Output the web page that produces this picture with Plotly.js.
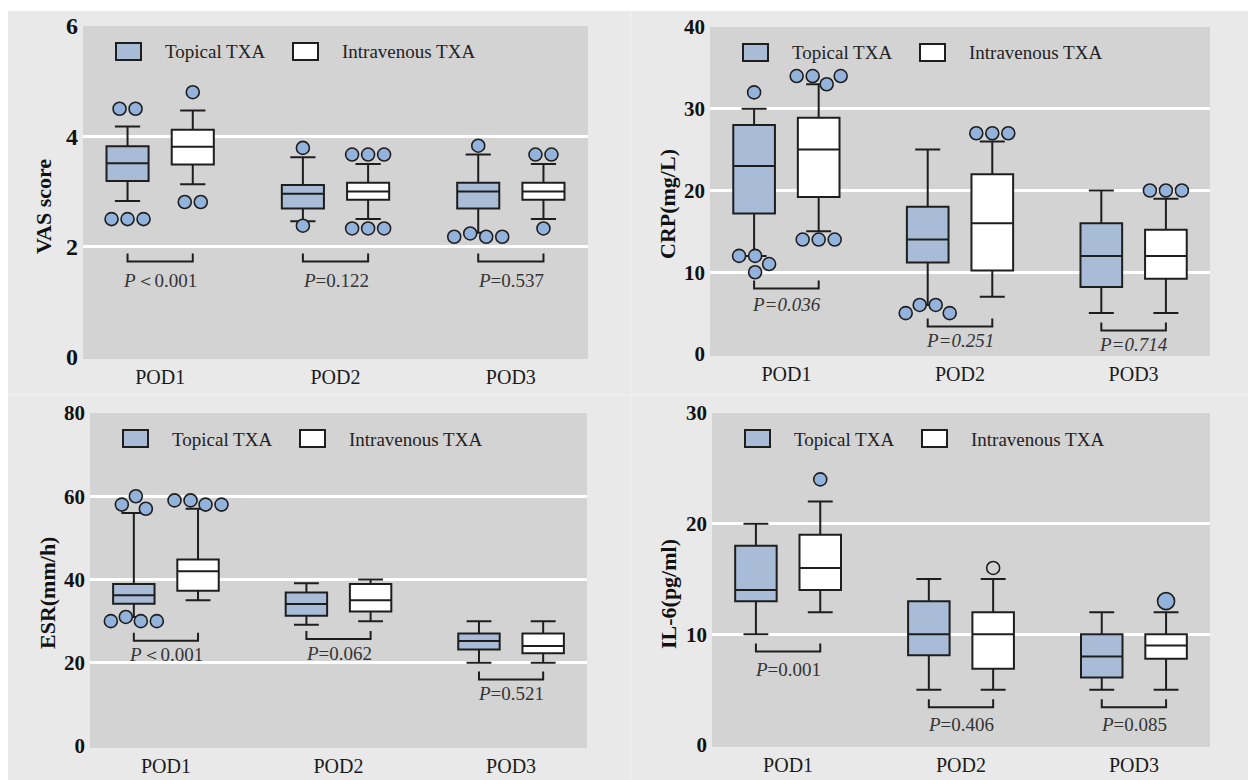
<!DOCTYPE html>
<html><head><meta charset="utf-8">
<script src="https://cdn.plot.ly/plotly-3.0.1.min.js"></script>
<style>html,body{margin:0;padding:0;background:#fff}#chart{width:1248px;height:780px}</style>
</head><body><div id="chart"></div>
<script>
// ---------------- DATA ----------------
const categories = ['POD1', 'POD2', 'POD3'];
const groupNames = ['Topical TXA', 'Intravenous TXA'];

// VAS score
const vasTopicalLower  = [2.83, 2.46, 2.25];
const vasTopicalQ1     = [3.19, 2.69, 2.69];
const vasTopicalMedian = [3.51, 2.96, 3.00];
const vasTopicalQ3     = [3.82, 3.12, 3.16];
const vasTopicalUpper  = [4.18, 3.62, 3.67];
const vasTopicalOut    = [[4.5, 4.5, 2.5, 2.5, 2.5], [3.79, 2.38], [3.83, 2.18, 2.24, 2.18, 2.18]];
const vasIVLower  = [3.13, 2.50, 2.50];
const vasIVQ1     = [3.49, 2.85, 2.85];
const vasIVMedian = [3.81, 3.00, 3.00];
const vasIVQ3     = [4.12, 3.16, 3.16];
const vasIVUpper  = [4.47, 3.50, 3.50];
const vasIVOut    = [[4.8, 2.81, 2.81], [3.67, 3.67, 3.67, 2.33, 2.33, 2.33], [3.67, 3.67, 2.33]];
const vasP = ['＜0.001', '=0.122', '=0.537'];

// CRP (mg/L)
const crpTopicalLower  = [12, 6, 5];
const crpTopicalQ1     = [17.2, 11.2, 8.2];
const crpTopicalMedian = [23, 14, 12];
const crpTopicalQ3     = [28, 18, 16];
const crpTopicalUpper  = [30, 25, 20];
const crpTopicalOut    = [[32, 12, 12, 10, 11], [6, 6, 5, 5], []];
const crpIVLower  = [15, 7, 5];
const crpIVQ1     = [19.2, 10.2, 9.2];
const crpIVMedian = [25, 16, 12];
const crpIVQ3     = [28.9, 22, 15.2];
const crpIVUpper  = [33, 26, 19];
const crpIVOut    = [[34, 34, 33, 34, 14, 14, 14], [27, 27, 27], [20, 20, 20]];
const crpP = ['=0.036', '=0.251', '=0.714'];

// ESR (mm/h)
const esrTopicalLower  = [31, 29.1, 20];
const esrTopicalQ1     = [34.2, 31.3, 23.2];
const esrTopicalMedian = [36.2, 34.1, 25.2];
const esrTopicalQ3     = [38.9, 36.9, 27];
const esrTopicalUpper  = [56, 39.1, 30];
const esrTopicalOut    = [[60, 58, 57, 30, 31, 30, 30], [], []];
const esrIVLower  = [35, 30, 20];
const esrIVQ1     = [37.3, 32.3, 22.3];
const esrIVMedian = [42, 35, 24];
const esrIVQ3     = [44.8, 38.9, 27];
const esrIVUpper  = [57, 40, 30];
const esrIVOut    = [[58, 59, 58, 59], [], []];
const esrP = ['＜0.001', '=0.062', '=0.521'];

// IL-6 (pg/ml)
const il6TopicalLower  = [10, 5, 5];
const il6TopicalQ1     = [13, 8.1, 6.1];
const il6TopicalMedian = [14, 10, 8];
const il6TopicalQ3     = [18, 13, 10];
const il6TopicalUpper  = [20, 15, 12];
const il6TopicalOut    = [[], [], []];
const il6IVLower  = [12, 5, 5];
const il6IVQ1     = [14, 6.9, 7.8];
const il6IVMedian = [16, 10, 9];
const il6IVQ3     = [19, 12, 10];
const il6IVUpper  = [22, 15, 12];
const il6IVOut    = [[24], [16], [13]];
const il6P = ['=0.001', '=0.406', '=0.085'];

// ---------------- STYLE / LAYOUT ----------------
const W = 1248, H = 780;
const FONT = 'Liberation Serif, Times New Roman, serif';
const XR = [-0.44, 2.44];
const BOX_OFF = 0.186, BOX_W = 0.24;
const DARK = '#1e1e1e';
const TOPICAL_FILL = '#a8bbd7';
const IV_FILL = '#ffffff';
const OUT_FILL = '#93b3dd';
const PLOT_BG = '#d3d3d3';
const MARK = 13, MIN_D = 15.5;

const panels = [
  {title: 'VAS score', yr: [0, 6], dtick: 2, tickSize: 24, px: [83, 588], py: [26, 357], titlePos: [44, 207],
   T: [vasTopicalLower, vasTopicalQ1, vasTopicalMedian, vasTopicalQ3, vasTopicalUpper], TO: vasTopicalOut,
   I: [vasIVLower, vasIVQ1, vasIVMedian, vasIVQ3, vasIVUpper], IO: vasIVOut,
   p: vasP, pAllItalic: false, bracketY: [1.73, 1.73, 1.73], textY: [1.39, 1.39, 1.39]},
  {title: 'CRP(mg/L)', yr: [0, 40], dtick: 10, tickSize: 21, px: [710, 1210], py: [27, 354], titlePos: [668, 204],
   T: [crpTopicalLower, crpTopicalQ1, crpTopicalMedian, crpTopicalQ3, crpTopicalUpper], TO: crpTopicalOut,
   I: [crpIVLower, crpIVQ1, crpIVMedian, crpIVQ3, crpIVUpper], IO: crpIVOut,
   p: crpP, pAllItalic: true, bracketY: [8.0, 3.35, 2.86], textY: [6.0, 1.6, 1.2]},
  {title: 'ESR(mm/h)', yr: [0, 80], dtick: 20, tickSize: 21, px: [90, 587], py: [413, 746], titlePos: [47, 593],
   T: [esrTopicalLower, esrTopicalQ1, esrTopicalMedian, esrTopicalQ3, esrTopicalUpper], TO: esrTopicalOut,
   I: [esrIVLower, esrIVQ1, esrIVMedian, esrIVQ3, esrIVUpper], IO: esrIVOut,
   p: esrP, pAllItalic: false, bracketY: [25.3, 25.7, 16.0], textY: [22.0, 22.3, 12.5]},
  {title: 'IL-6(pg/ml)', yr: [0, 30], dtick: 10, tickSize: 21, px: [712, 1210], py: [413, 745], titlePos: [668, 594],
   T: [il6TopicalLower, il6TopicalQ1, il6TopicalMedian, il6TopicalQ3, il6TopicalUpper], TO: il6TopicalOut,
   I: [il6IVLower, il6IVQ1, il6IVMedian, il6IVQ3, il6IVUpper], IO: il6IVOut,
   p: il6P, pAllItalic: false, bracketY: [8.44, 3.4, 3.4], textY: [6.85, 1.87, 1.87],
   outStyle: {'I1': {fill: PLOT_BG}, 'I2': {size: 17}}}
];

// beeswarm offsets (pixels) for a set of values
function swarm(values, pxPerY) {
  const placed = [];
  values.forEach(v => {
    const yp = v * pxPerY;
    let dx = 0;
    for (let k = 0; k < 400; k++) {
      const c = k === 0 ? 0 : (k % 2 === 1 ? -Math.ceil(k / 2) : Math.ceil(k / 2));
      if (placed.every(p => Math.hypot(p[0] - c, p[1] - yp) >= MIN_D)) { dx = c; break; }
    }
    placed.push([dx, yp]);
  });
  const n = placed.length, comp = new Array(n).fill(-1);
  let cid = 0;
  for (let i = 0; i < n; i++) {
    if (comp[i] >= 0) continue;
    const stack = [i]; comp[i] = cid;
    while (stack.length) {
      const a = stack.pop();
      for (let b = 0; b < n; b++) {
        if (comp[b] < 0 && Math.hypot(placed[a][0] - placed[b][0], placed[a][1] - placed[b][1]) <= MIN_D * 1.15) {
          comp[b] = cid; stack.push(b);
        }
      }
    }
    cid++;
  }
  for (let c = 0; c < cid; c++) {
    const xs = placed.filter((p, i) => comp[i] === c).map(p => p[0]);
    const shift = -(Math.min(...xs) + Math.max(...xs)) / 2;
    placed.forEach((p, i) => { if (comp[i] === c) p[0] += shift; });
  }
  return placed.map(p => p[0]);
}

const traces = [], shapes = [], annotations = [];
const layout = {
  width: W, height: H, margin: {l: 0, r: 0, t: 0, b: 0},
  paper_bgcolor: '#e9e9e9', plot_bgcolor: PLOT_BG, showlegend: false,
  font: {family: FONT, color: '#1a1a1a'}
};

shapes.push({type: 'rect', xref: 'paper', yref: 'paper', x0: 0, x1: 1, y0: 1 - 11 / H, y1: 1, fillcolor: '#ffffff', line: {width: 0}, layer: 'below'});
shapes.push({type: 'rect', xref: 'paper', yref: 'paper', x0: 0, x1: 8 / W, y0: 0, y1: 1, fillcolor: '#ffffff', line: {width: 0}, layer: 'below'});
shapes.push({type: 'line', xref: 'paper', yref: 'paper', x0: 631 / W, x1: 631 / W, y0: 0, y1: 1 - 11 / H, line: {color: '#f2f2f2', width: 1}, layer: 'below'});
shapes.push({type: 'line', xref: 'paper', yref: 'paper', x0: 8 / W, x1: 1, y0: 1 - 395 / H, y1: 1 - 395 / H, line: {color: '#f2f2f2', width: 1}, layer: 'below'});

panels.forEach((P, k) => {
  const n = k + 1;
  const xa = n === 1 ? 'x' : 'x' + n, ya = n === 1 ? 'y' : 'y' + n;
  const xKey = n === 1 ? 'xaxis' : 'xaxis' + n, yKey = n === 1 ? 'yaxis' : 'yaxis' + n;
  const pxPerX = (P.px[1] - P.px[0]) / (XR[1] - XR[0]);
  const pxPerY = (P.py[1] - P.py[0]) / (P.yr[1] - P.yr[0]);
  const tickvals = [];
  for (let v = P.yr[0]; v <= P.yr[1] + 1e-9; v += P.dtick) tickvals.push(v);

  layout[xKey] = {
    domain: [P.px[0] / W, P.px[1] / W], anchor: ya, range: XR, type: 'linear',
    tickvals: [0, 1, 2], ticktext: categories, showgrid: false, zeroline: false, showline: false,
    ticks: '', ticklabelstandoff: 6, tickfont: {family: FONT, size: 20, color: '#1a1a1a'}, fixedrange: true
  };
  layout[yKey] = {
    domain: [1 - P.py[1] / H, 1 - P.py[0] / H], anchor: xa, range: P.yr, tickvals: tickvals,
    ticktext: tickvals.map(v => '<b>' + v + '</b>'),
    showgrid: true, gridcolor: '#ffffff', gridwidth: 3, zeroline: true, zerolinecolor: PLOT_BG, zerolinewidth: 3,
    showline: false, ticks: '', ticklabelstandoff: 4,
    tickfont: {family: FONT, size: P.tickSize, color: '#111111'}, fixedrange: true
  };

  annotations.push({xref: 'paper', yref: 'paper', x: P.titlePos[0] / W, y: 1 - P.titlePos[1] / H,
    text: '<b>' + P.title + '</b>', textangle: -90, showarrow: false, xanchor: 'center', yanchor: 'middle',
    font: {family: FONT, size: 22, color: '#111111'}});

  [['T', -BOX_OFF, TOPICAL_FILL, 0], ['I', BOX_OFF, IV_FILL, 1]].forEach(([g, off, fill, gi]) => {
    const s = P[g];
    traces.push({
      type: 'box', xaxis: xa, yaxis: ya, name: groupNames[gi],
      x: categories.map((c, i) => i + off),
      lowerfence: s[0], q1: s[1], median: s[2], q3: s[3], upperfence: s[4],
      width: BOX_W, whiskerwidth: 0.6, fillcolor: fill, line: {color: DARK, width: 2},
      boxpoints: false, hoverinfo: 'skip', showlegend: false
    });
    const outs = P[g + 'O'];
    outs.forEach((vals, i) => {
      if (!vals.length) return;
      const dxs = swarm(vals, pxPerY);
      const st = (P.outStyle && P.outStyle[g + i]) || {};
      traces.push({
        type: 'scatter', mode: 'markers', xaxis: xa, yaxis: ya, name: groupNames[gi] + ' outliers',
        x: vals.map((v, j) => i + off + dxs[j] / pxPerX), y: vals,
        marker: {size: st.size || MARK, color: st.fill || OUT_FILL, line: {color: DARK, width: 1.6}},
        hoverinfo: 'skip', showlegend: false, cliponaxis: false
      });
    });
  });

  const tickH = 8 / pxPerY;
  categories.forEach((c, i) => {
    const x0 = i - BOX_OFF, x1 = i + BOX_OFF, yb = P.bracketY[i], yt = yb + tickH;
    shapes.push({type: 'path', xref: xa, yref: ya,
      path: `M ${x0},${yt} L ${x0},${yb} L ${x1},${yb} L ${x1},${yt}`,
      line: {color: DARK, width: 2}});
    const txt = P.pAllItalic ? `<i>P${P.p[i]}</i>` : `<i>P</i>${P.p[i]}`;
    annotations.push({xref: xa, yref: ya, x: i, y: P.textY[i], text: txt, showarrow: false,
      xanchor: 'center', yanchor: 'middle', font: {family: FONT, size: 19, color: '#333333'}});
  });

  const legendItems = [[33, 80, TOPICAL_FILL, groupNames[0]], [210, 257, IV_FILL, groupNames[1]]];
  legendItems.forEach(([rx, tx, fill, label]) => {
    shapes.push({type: 'rect', xref: xa + ' domain', yref: ya + ' domain',
      xsizemode: 'pixel', ysizemode: 'pixel', xanchor: 0, yanchor: 1,
      x0: rx, x1: rx + 25, y0: -17, y1: -34, fillcolor: fill, line: {color: DARK, width: 2}});
    annotations.push({xref: xa + ' domain', yref: ya + ' domain', x: 0, y: 1, xshift: tx, yshift: -26,
      xanchor: 'left', yanchor: 'middle', text: label, showarrow: false,
      font: {family: FONT, size: 19, color: '#222222'}});
  });
});

layout.shapes = shapes;
layout.annotations = annotations;
Plotly.newPlot('chart', traces, layout, {staticPlot: true, displayModeBar: false});
</script>
</body></html>
